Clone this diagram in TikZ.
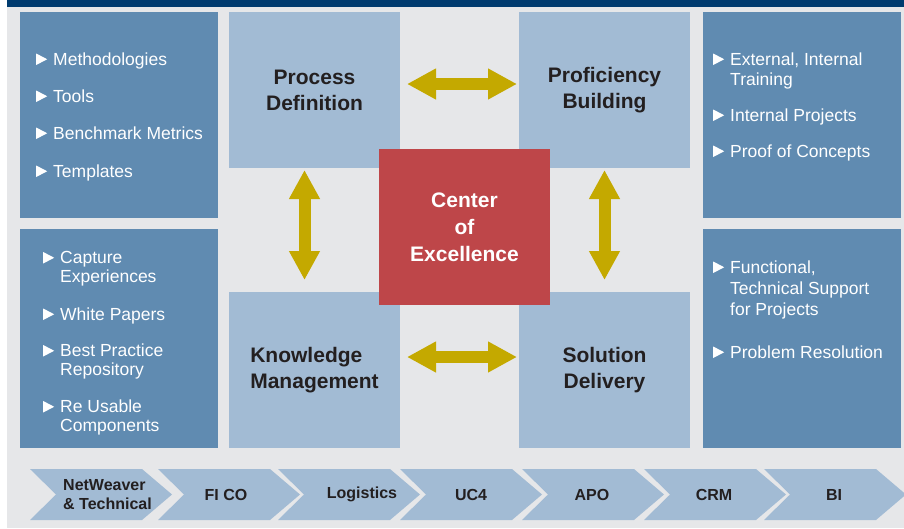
\documentclass[tikz,border=0pt]{standalone}
\usepackage{fontspec}
\setmainfont{Liberation Sans}
\usetikzlibrary{arrows.meta}
\definecolor{navybar}{RGB}{0,59,111}
\definecolor{bggray}{RGB}{230,231,233}
\definecolor{panelblue}{RGB}{96,139,177}
\definecolor{boxblue}{RGB}{162,187,212}
\definecolor{coered}{RGB}{190,70,73}
\definecolor{arrowgold}{RGB}{196,169,0}
\definecolor{titleink}{RGB}{35,31,32}
% bullet triangle and indent for continued lines
\newcommand{\bul}{\tikz[baseline=0pt]\fill[white] (0pt,0pt) -- (0pt,11.5pt) -- (11pt,5.75pt) -- cycle;\hspace{6pt}}
\newcommand{\contind}{\hspace*{17pt}}
\begin{document}
\begin{tikzpicture}[x=1pt,y=-1pt]
    \tikzset{darkpanel/.style={fill=panelblue, anchor=north west, inner sep=0pt, outer sep=0pt,
            minimum width=198pt},
        lightbox/.style={fill=boxblue, anchor=north west, inner sep=0pt, outer sep=0pt,
            minimum width=171pt, minimum height=156pt, text=titleink,
            font=\bfseries\fontsize{21}{26}\selectfont},
        item/.style={anchor=base west, inner sep=0pt, text=white, align=left,
            font=\fontsize{17.5}{18.5}\selectfont},
        chevlabel/.style={inner sep=0pt, text=titleink, font=\bfseries\fontsize{16}{19}\selectfont},
        dblarrow/.style={arrowgold, line width=12pt,
            {Triangle[length=29pt,width=29pt]}-{Triangle[length=29pt,width=29pt]}}}
    \useasboundingbox (0,0) rectangle (904,528);
    %Hintergrund
    \fill[bggray] (7,7) rectangle (904,528);
    \fill[navybar] (7,0) rectangle (904,7);

    %Seitenfelder
    \node[darkpanel, minimum height=206pt] (methods) at (20,12) {};
    \node[darkpanel, minimum height=219pt] (knowhow) at (20,229) {};
    \node[darkpanel, minimum height=206pt] (training) at (703,12) {};
    \node[darkpanel, minimum height=219pt] (support) at (703,229) {};

    %Bausteine
    \node[lightbox, align=center] (pd) at (229,12)  {Process\\Definition};
    \node[lightbox, align=center] (pb) at (519,12)  {Proficiency\\Building};
    \node[lightbox, align=left]   (km) at (229,292) {Knowledge\\Management};
    \node[lightbox, align=center] (sd) at (519,292) {Solution\\Delivery};
    \node[lightbox, fill=coered, text=white, align=center,
        font=\bfseries\fontsize{21}{27}\selectfont] (coe) at (379,149) {Center\\of\\Excellence};

    %Pfeile
    \draw[dblarrow, shorten <=7pt, shorten >=2pt] ([yshift=6pt]pd.east) -- ([yshift=6pt]pb.west);
    \draw[dblarrow, shorten <=7pt, shorten >=2pt] ([yshift=13pt]km.east) -- ([yshift=13pt]sd.west);
    \draw[dblarrow, shorten <=2pt, shorten >=12pt] ([xshift=-10pt]pd.south) -- ([xshift=-10pt]km.north);
    \draw[dblarrow, shorten <=2pt, shorten >=12pt] (pb.south) -- (sd.north);

    %Listen links (base = letzte Zeile)
    \node[item] (m1) at (36,65)  {\bul Methodologies};
    \node[item] (m2) at (36,102) {\bul Tools};
    \node[item] (m3) at (36,139) {\bul Benchmark Metrics};
    \node[item] (m4) at (36,177) {\bul Templates};
    \node[item] (k1) at (43,282) {\bul Capture\\\contind Experiences};
    \node[item] (k2) at (43,320) {\bul White Papers};
    \node[item] (k3) at (43,375) {\bul Best Practice\\\contind Repository};
    \node[item] (k4) at (43,431) {\bul Re Usable\\\contind Components};

    %Listen rechts
    \node[item, font=\fontsize{17.5}{20}\selectfont] (t1) at (713,85)
        {\bul External, Internal\\\contind Training};
    \node[item] (t2) at (713,121) {\bul Internal Projects};
    \node[item] (t3) at (713,157) {\bul Proof of Concepts};
    \node[item, font=\fontsize{17.5}{21}\selectfont] (s1) at (713,315)
        {\bul Functional,\\\contind Technical Support\\\contind for Projects};
    \node[item] (s2) at (713,358) {\bul Problem Resolution};

    %Module
    \foreach \lx in {30,158,278,400,522,644,764}
        \fill[boxblue] (\lx,469) -- ++(112,0) -- ++(30,25.5) -- ++(-30,25.5)
            -- ++(-112,0) -- ++(26,-25.5) -- cycle;
    \node[chevlabel, anchor=west, align=left] (netweaver) at (63,494.5) {NetWeaver\\\& Technical};
    \node[chevlabel] (fico)      at (226,494.5) {FI CO};
    \node[chevlabel] (logistics) at (362,494.5) {Logistics};
    \node[chevlabel] (uc4)       at (471,494.5) {UC4};
    \node[chevlabel] (apo)       at (592,494.5) {APO};
    \node[chevlabel] (crm)       at (714,494.5) {CRM};
    \node[chevlabel] (bi)        at (834,494.5) {BI};

\end{tikzpicture}
\end{document}
